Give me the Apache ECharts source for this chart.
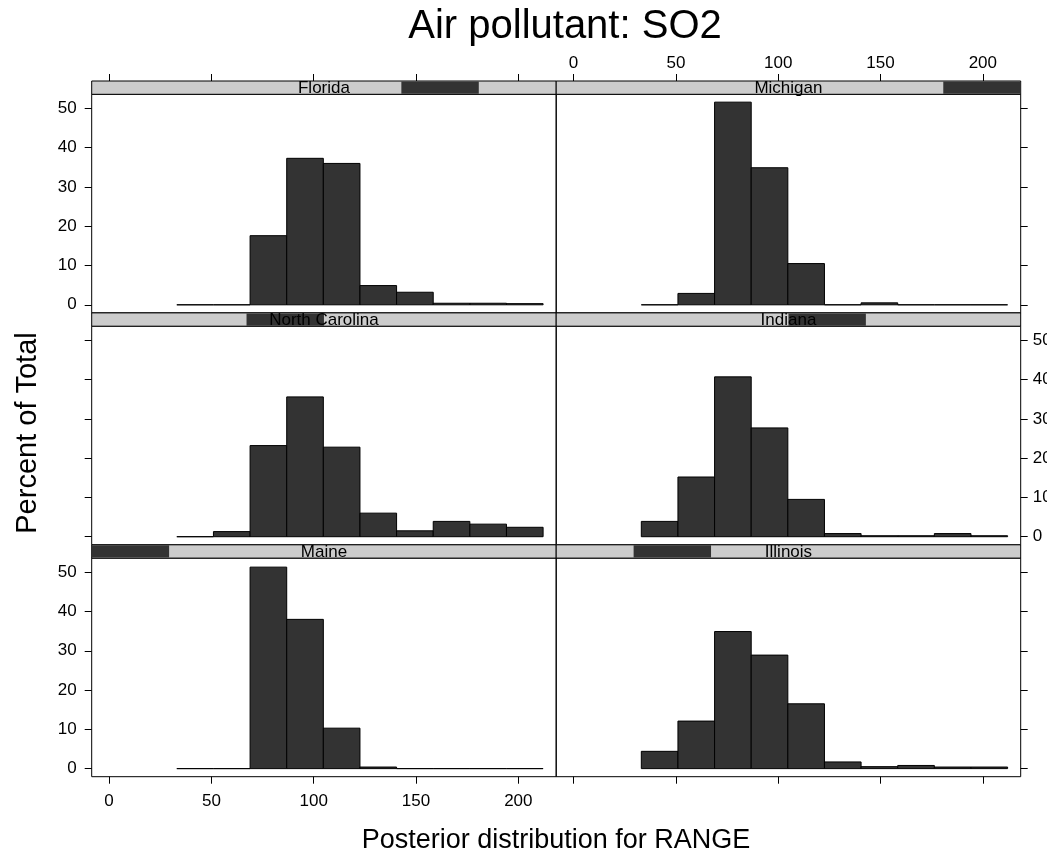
<!DOCTYPE html>
<html>
<head>
<meta charset="utf-8">
<script src="https://cdn.jsdelivr.net/npm/echarts@6/dist/echarts.min.js"></script>
<style>
  html, body { margin: 0; padding: 0; background: #fff; }
  #main { width: 1047px; height: 855px; }
</style>
</head>
<body>
<div id="main"></div>
<script>
// histogram bin edges (RANGE)
const breaks = [33.1, 51.0, 68.9, 86.8, 104.7, 122.6, 140.5, 158.4, 176.3, 194.2, 212.1]

// percent of total per bin, one array per state
const maine = [0, 0, 51.3, 38.0, 10.3, 0.4, 0, 0, 0, 0]
const illinois = [4.4, 12.1, 34.9, 28.9, 16.5, 1.7, 0.5, 0.8, 0.4, 0.4]
const northCarolina = [0, 1.3, 23.2, 35.6, 22.8, 6.0, 1.5, 3.9, 3.2, 2.4]
const indiana = [3.9, 15.2, 40.7, 27.7, 9.5, 0.8, 0.25, 0.25, 0.8, 0.25]
const florida = [0, 0, 17.6, 37.3, 36.0, 4.9, 3.2, 0.4, 0.4, 0.3]
const michigan = [0, 2.9, 51.6, 34.9, 10.5, 0, 0.5, 0, 0, 0]

// factor levels in lattice order (level 1 = bottom left)
const states = ['Maine', 'Illinois', 'North Carolina', 'Indiana', 'Florida', 'Michigan']
const values = [maine, illinois, northCarolina, indiana, florida, michigan]

const xTicks = [0, 50, 100, 150, 200]
const yTicks = [0, 10, 20, 30, 40, 50]

const titleText = 'Air pollutant: SO2'
const xLabel = 'Posterior distribution for RANGE'
const yLabel = 'Percent of Total'

// layout
const FONT = 'Liberation Sans, Arial, sans-serif'
const colX = [91.7, 556.2]
const colW = 464.5
const top0 = 81
const rowPitch = 231.9
const stripH = 13.3
const panelH = 218.6

let myChart = echarts.init(document.getElementById('main'))

const grids = []
const xAxes = []
const yAxes = []
const series = []
const graphics = []

states.forEach((name, level) => {
    const col = level % 2
    const row = 2 - Math.floor(level / 2)
    const left = colX[col]
    const stripTop = top0 + row * rowPitch
    const gtop = stripTop + stripH

    grids.push({
        left: left, top: gtop, width: colW, height: panelH,
        show: true, borderColor: '#000', borderWidth: 1,
        backgroundColor: 'transparent',
        containLabel: false, outerBoundsMode: 'none'
    })

    // x axis: top row gets ticks above the strip, bottom row below panel
    const xShow = row !== 1
    const xPos = row === 0 ? 'top' : 'bottom'
    const xLabels = (row === 0 && col === 1) || (row === 2 && col === 0)
    xAxes.push({
        gridIndex: level, type: 'value', min: -8.5, max: 218.5,
        position: xPos, offset: row === 0 ? stripH : 0,
        show: xShow,
        axisLine: {show: false, onZero: false},
        splitLine: {show: false},
        axisTick: {show: true, length: 7, lineStyle: {color: '#000', width: 1}, customValues: xTicks},
        axisLabel: {
            show: xLabels, customValues: xTicks,
            color: '#000', fontSize: 17, fontFamily: FONT,
            margin: row === 0 ? 9 : 16
        }
    })

    // y axis alternates: left column left side, right column right side
    const yPos = col === 0 ? 'left' : 'right'
    const yLabels = col === 0 ? row !== 1 : row === 1
    yAxes.push({
        gridIndex: level, type: 'value', min: -2.06, max: 53.6,
        position: yPos,
        axisLine: {show: false, onZero: false},
        splitLine: {show: false},
        axisTick: {show: true, length: 7, lineStyle: {color: '#000', width: 1}, customValues: yTicks},
        axisLabel: {
            show: yLabels, customValues: yTicks,
            color: '#000', fontSize: 17, fontFamily: FONT,
            margin: col === 0 ? 15 : 12
        }
    })

    const data = values[level].map((v, i) => [breaks[i], breaks[i + 1], v])
    series.push({
        type: 'custom',
        xAxisIndex: level,
        yAxisIndex: level,
        silent: true,
        data: data,
        renderItem: (params, api) => {
            const p0 = api.coord([api.value(0), api.value(2)])
            const p1 = api.coord([api.value(1), 0])
            return {
                type: 'rect',
                shape: {x: p0[0], y: p0[1], width: p1[0] - p0[0], height: p1[1] - p0[1]},
                style: {fill: '#333333', stroke: '#000', lineWidth: 1}
            }
        }
    })

    // strip with level indicator
    graphics.push({
        type: 'rect', silent: true,
        shape: {x: left, y: stripTop, width: colW, height: stripH},
        style: {fill: '#cccccc', stroke: '#000', lineWidth: 1}
    })
    graphics.push({
        type: 'rect', silent: true,
        shape: {x: left + colW * level / 6, y: stripTop + 0.5, width: colW / 6, height: stripH - 1},
        style: {fill: '#333333'}
    })
    graphics.push({
        type: 'text', silent: true, z: 10,
        style: {
            text: name, x: left + colW / 2, y: stripTop + stripH / 2 + 0.5,
            fill: '#000', font: '17px ' + FONT,
            align: 'center', verticalAlign: 'middle'
        }
    })
})

graphics.push({
    type: 'text', silent: true,
    style: {
        text: titleText, x: 565, y: 27, fill: '#000',
        font: '40px ' + FONT, align: 'center', verticalAlign: 'middle'
    }
})
graphics.push({
    type: 'text', silent: true,
    style: {
        text: xLabel, x: 556, y: 841, fill: '#000',
        font: '27px ' + FONT, align: 'center', verticalAlign: 'middle'
    }
})
graphics.push({
    type: 'text', silent: true,
    x: 28, y: 433, rotation: Math.PI / 2,
    style: {
        text: yLabel, x: 0, y: 0, fill: '#000',
        font: '29px ' + FONT, align: 'center', verticalAlign: 'middle'
    }
})

myChart.setOption({
    backgroundColor: '#fff',
    animation: false,
    grid: grids,
    xAxis: xAxes,
    yAxis: yAxes,
    series: series,
    graphic: graphics
})
</script>
</body>
</html>
